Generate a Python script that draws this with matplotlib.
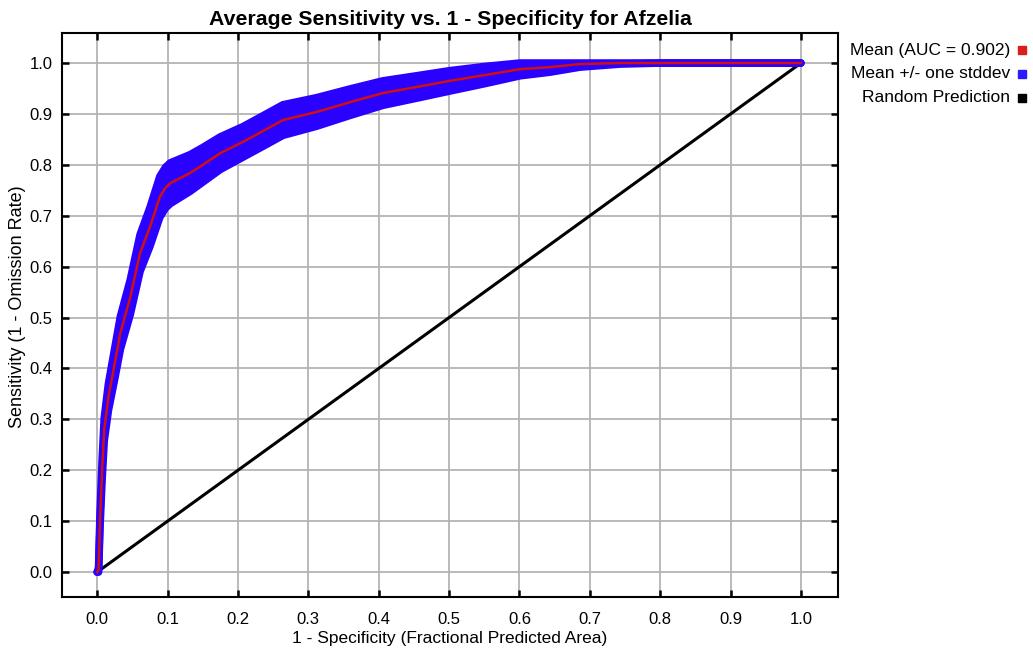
import matplotlib
matplotlib.use('Agg')
import matplotlib.pyplot as plt
import numpy as np

plt.rcParams['font.family'] = ['Liberation Sans', 'DejaVu Sans']

# mean ROC curve
fpr = [0, 0.002, 0.004, 0.007, 0.010, 0.016, 0.025, 0.033, 0.047, 0.061,
       0.075, 0.089, 0.097, 0.104, 0.118, 0.132, 0.150, 0.175, 0.207, 0.235,
       0.264, 0.312, 0.359, 0.406, 0.454, 0.501, 0.549, 0.601, 0.643, 0.686,
       0.743, 0.8, 0.9, 1.0]
sens = [0, 0.004, 0.10, 0.20, 0.28, 0.344, 0.41, 0.47, 0.54, 0.627,
        0.678, 0.737, 0.755, 0.764, 0.774, 0.784, 0.80, 0.823, 0.845, 0.866,
        0.888, 0.904, 0.923, 0.941, 0.953, 0.965, 0.976, 0.988, 0.992, 0.998,
        1.0, 1.0, 1.0, 1.0]
# one stddev around the mean
sd = [0, 0.004, 0.012, 0.018, 0.022, 0.026, 0.03, 0.032, 0.034, 0.036,
      0.038, 0.04, 0.04, 0.04, 0.038, 0.036, 0.034, 0.032, 0.03, 0.03,
      0.03, 0.028, 0.026, 0.024, 0.022, 0.02, 0.017, 0.013, 0.01, 0.006,
      0.002, 0, 0, 0]

auc = 0.902
ticks = [round(0.1 * i, 1) for i in range(11)]
legend_labels = ['Mean (AUC = %.3f)' % auc, 'Mean +/- one stddev', 'Random Prediction']
legend_colors = ['#dd1c1c', '#2a1cff', 'black']

fpr = np.array(fpr)
sens = np.array(sens)
sd = np.array(sd)
upper = np.clip(sens + sd, 0, 1)
lower = np.clip(sens - sd, 0, 1)

fig = plt.figure(figsize=(10.33, 6.55), dpi=100)
ax = fig.add_axes([0.060, 0.0885, 0.7512, 0.8611])

ax.grid(True, color='#b4b4b4', linewidth=1.3)
ax.set_axisbelow(True)

ax.plot([0, 1], [0, 1], color='black', linewidth=2.2, zorder=2)
ax.fill_between(fpr, lower, upper, color='#2a00ff', linewidth=0, zorder=3)
ax.plot(fpr, upper, color='#2a00ff', linewidth=5.5, zorder=3, solid_capstyle='round')
ax.plot(fpr, lower, color='#2a00ff', linewidth=5.5, zorder=3, solid_capstyle='round')
ax.plot(fpr, sens, color='#d01010', linewidth=1.8, zorder=4)

ax.set_xlim(-0.05, 1.0526)
ax.set_ylim(-0.049, 1.059)
ax.set_xticks(ticks)
ax.set_yticks(ticks)
ax.set_xticklabels(['%.1f' % t for t in ticks])
ax.set_yticklabels(['%.1f' % t for t in ticks])
ax.tick_params(direction='in', top=True, right=True, length=5, width=1.8,
               labelsize=12)
ax.tick_params(axis='x', pad=11)
ax.tick_params(axis='y', pad=7)
for s in ax.spines.values():
    s.set_linewidth(1.5)

ax.set_title('Average Sensitivity vs. 1 - Specificity for Afzelia',
             fontsize=15.3, fontweight='bold', pad=6)
ax.set_xlabel('1 - Specificity (Fractional Predicted Area)', fontsize=12.5, labelpad=3)
ax.set_ylabel('Sensitivity (1 - Omission Rate)', fontsize=13)
ax.yaxis.set_label_coords(-0.047, 0.515)

# legend outside on the right
for i, (lab, col) in enumerate(zip(legend_labels, legend_colors)):
    y = 1 - (50 + 24 * i) / 655
    fig.text(1010 / 1033, y, lab, ha='right', va='center', fontsize=12.5)
    fig.patches.append(plt.Rectangle((1018 / 1033, y - 4 / 655), 8 / 1033, 8 / 655,
                                     transform=fig.transFigure, color=col,
                                     figure=fig))

fig.savefig('out.png', dpi=100)
